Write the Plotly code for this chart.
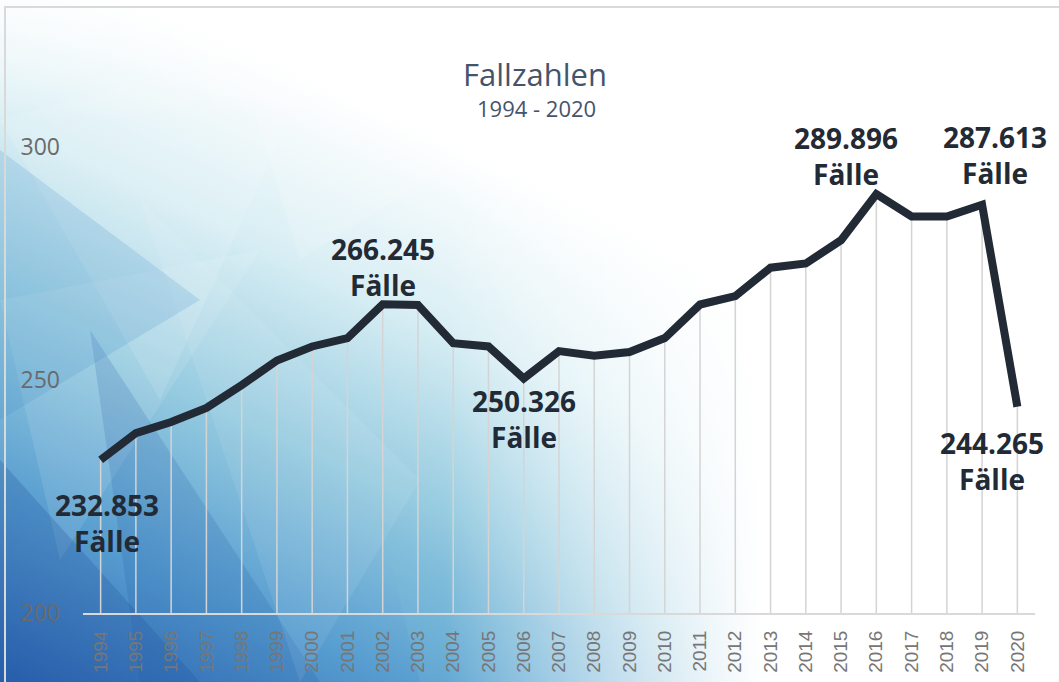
import base64
import plotly.graph_objects as go

# Fallzahlen 1994 - 2020 (in Tausend)
jahre = [str(j) for j in range(1994, 2021)]
faelle = [232.853, 238.6, 241.0, 244.0, 248.9, 254.2, 257.2, 259.0, 266.245, 266.1,
          257.9, 257.2, 250.326, 256.2, 255.2, 256.0, 259.0, 266.2, 268.0, 274.1,
          275.0, 280.0, 289.896, 285.1, 285.1, 287.613, 244.265]

# beschriftete Punkte: Jahr -> (Text, x-Versatz, y-Versatz)
beschriftet = {
    '1994': ('232.853<br>Fälle', 6, -63),
    '2002': ('266.245<br>Fälle', 0, 37),
    '2006': ('250.326<br>Fälle', 0, -41),
    '2016': ('289.896<br>Fälle', -30, 38),
    '2019': ('287.613<br>Fälle', 13, 50),
    '2020': ('244.265<br>Fälle', -25, -54),
}

W, H = 1059, 682
L, R, T, B = 83, 24, 147, 69
pw, ph = W - L - R, H - T - B

# dekorativer Hintergrund (Polygone, nach rechts ausblendend)
svg = f'''<svg xmlns="http://www.w3.org/2000/svg" width="{W}" height="{H}" viewBox="0 0 {W} {H}">
<defs>
<linearGradient id="g" x1="0" y1="1" x2="0.65" y2="0.1">
<stop offset="0" stop-color="#2a62b0"/>
<stop offset="0.2" stop-color="#579dd0"/>
<stop offset="0.4" stop-color="#96cbe0"/>
<stop offset="0.6" stop-color="#d8eef4"/>
<stop offset="0.8" stop-color="#ffffff"/>
</linearGradient>
<linearGradient id="fade" x1="0" y1="0" x2="1" y2="0">
<stop offset="0" stop-color="#ffffff" stop-opacity="0"/>
<stop offset="0.42" stop-color="#ffffff" stop-opacity="0"/>
<stop offset="0.72" stop-color="#ffffff" stop-opacity="1"/>
</linearGradient>
<linearGradient id="top" x1="0" y1="0" x2="0" y2="1">
<stop offset="0" stop-color="#ffffff" stop-opacity="0.7"/>
<stop offset="0.18" stop-color="#ffffff" stop-opacity="0"/>
</linearGradient>
</defs>
<rect width="{W}" height="{H}" fill="url(#g)"/>
<polygon points="0,120 330,30 160,400" fill="#ffffff" opacity="0.12"/>
<polygon points="0,300 260,250 60,560" fill="#ffffff" opacity="0.10"/>
<polygon points="0,460 200,682 0,682" fill="#1f4f9c" opacity="0.25"/>
<polygon points="90,330 320,682 140,682" fill="#1f5aa8" opacity="0.18"/>
<polygon points="140,200 420,480 300,682" fill="#ffffff" opacity="0.08"/>
<polygon points="0,150 200,300 0,420" fill="#3f8cc6" opacity="0.18"/>
<polygon points="220,0 520,120 300,260" fill="#ffffff" opacity="0.15"/>
<polygon points="380,520 620,682 420,682" fill="#7fc2dc" opacity="0.2"/>
<rect width="{W}" height="{H}" fill="url(#fade)"/>
<rect width="{W}" height="{H}" fill="url(#top)"/>
<rect x="5" y="7" width="{W}" height="{H}" fill="none" stroke="#d9d9d9" stroke-width="2"/>
</svg>'''
bg = 'data:image/svg+xml;base64,' + base64.b64encode(svg.encode()).decode()

fig = go.Figure()

# Lotlinien von der Achse zum Datenpunkt
fig.add_trace(go.Scatter(
    x=jahre, y=faelle, mode='markers',
    marker=dict(size=1, color='rgba(0,0,0,0)'),
    error_y=dict(type='data', symmetric=False,
                 array=[0] * len(faelle),
                 arrayminus=[v - 200 for v in faelle],
                 color='#d4d4d4', thickness=1.5, width=0),
    hoverinfo='skip', showlegend=False,
))

fig.add_trace(go.Scatter(
    x=jahre, y=faelle, mode='lines',
    line=dict(color='#222a35', width=8, shape='linear'),
    showlegend=False,
))

for jahr, (text, dx, dy) in beschriftet.items():
    i = jahre.index(jahr)
    fig.add_annotation(
        x=i, y=faelle[i], text=text, showarrow=False,
        xshift=dx, yshift=dy,
        font=dict(family='Open Sans', size=28, color='#222a35', weight='bold'),
    )

fig.add_annotation(x=(535 - L) / pw, y=(H - B - 51) / ph, xref='paper', yref='paper',
                   text='Fallzahlen', showarrow=False,
                   font=dict(family='Open Sans', size=31, color='#44546a'))
fig.add_annotation(x=(536 - L) / pw, y=(H - B - 91) / ph, xref='paper', yref='paper',
                   text='1994 - 2020', showarrow=False,
                   font=dict(family='Open Sans', size=22, color='#44546a'))

fig.add_layout_image(dict(
    source=bg, xref='paper', yref='paper',
    x=-L / pw, y=1 + T / ph, sizex=W / pw, sizey=H / ph,
    xanchor='left', yanchor='top', sizing='stretch', layer='below',
))

fig.update_layout(
    width=W, height=H,
    margin=dict(l=L, r=R, t=T, b=B, autoexpand=False),
    paper_bgcolor='white', plot_bgcolor='rgba(0,0,0,0)',
    font=dict(family='Open Sans'),
)
fig.update_xaxes(
    type='category', range=[-0.5, len(jahre) - 0.5], automargin=False,
    showgrid=False, showline=True, linecolor='#d9d9d9', linewidth=2,
    ticks='', tickangle=-90, ticklabelstandoff=8,
    tickfont=dict(family='Liberation Sans', size=19, color='#767676'),
    zeroline=False,
)
fig.update_yaxes(
    range=[200, 300], tickvals=[200, 250, 300], automargin=False,
    showgrid=False, showline=False, zeroline=False, ticks='',
    ticklabelstandoff=22,
    tickfont=dict(family='Open Sans', size=23, color='#6a6a6a'),
)

# Seitenrand entfernen, damit die Grafik bei (0, 0) beginnt
fig.write_html('out.html', config={'displayModeBar': False},
               post_script="document.body.style.margin='0';")
